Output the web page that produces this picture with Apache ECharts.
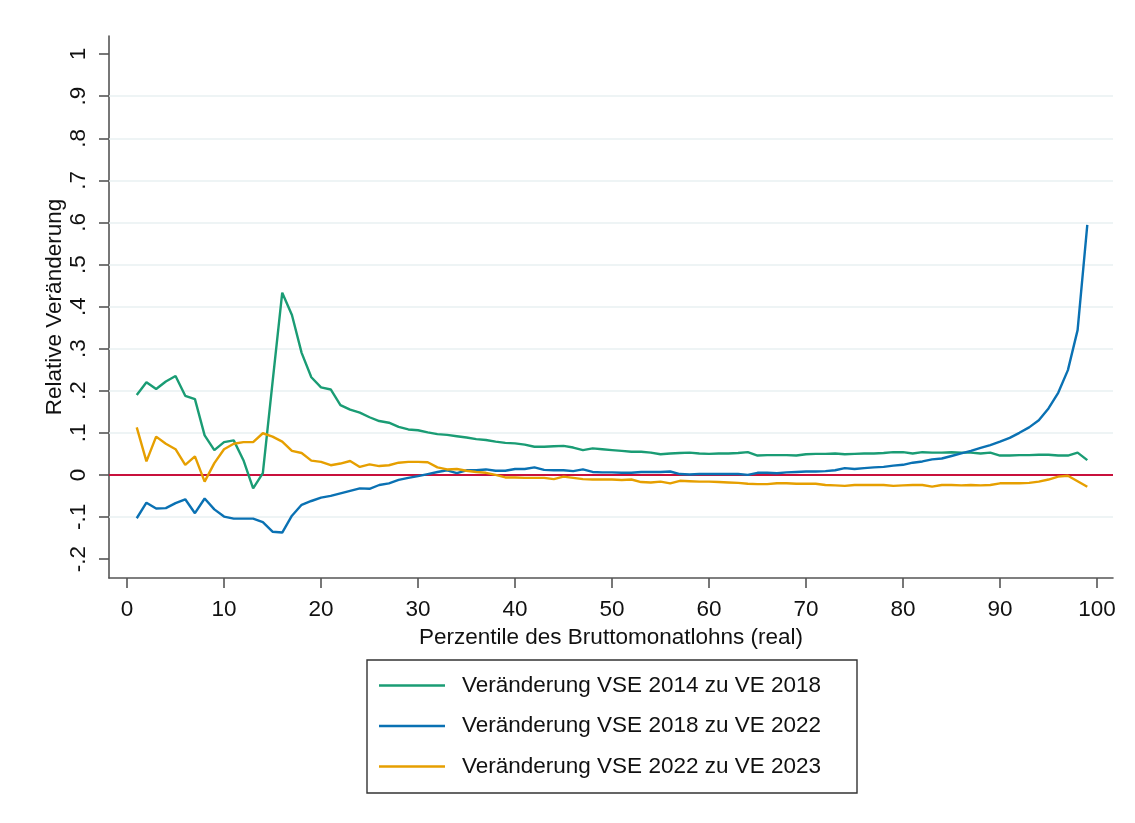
<!DOCTYPE html>
<html>
<head>
<meta charset="utf-8">
<script src="https://cdn.jsdelivr.net/npm/echarts@6/dist/echarts.min.js"></script>
<style>
  html, body { margin: 0; padding: 0; background: #fff; }
  #chart { width: 1135px; height: 823px; }
</style>
</head>
<body>
<div id="chart"></div>
<script>
// Percentiles 1..99 of gross monthly wage
const percentiles = Array.from({ length: 99 }, (_, i) => i + 1);

// Relative change VSE 2014 -> VE 2018
const change2014to2018 = [
  0.190, 0.220, 0.204, 0.222, 0.235, 0.188, 0.180, 0.094, 0.059, 0.078,
  0.082, 0.035, -0.032, 0.004, 0.220, 0.433, 0.380, 0.290, 0.232, 0.208,
  0.203, 0.166, 0.155, 0.148, 0.137, 0.128, 0.124, 0.114, 0.108, 0.106,
  0.101, 0.097, 0.095, 0.092, 0.089, 0.085, 0.083, 0.079, 0.076, 0.075,
  0.072, 0.067, 0.067, 0.068, 0.069, 0.065, 0.059, 0.063, 0.061, 0.059,
  0.057, 0.055, 0.055, 0.053, 0.049, 0.051, 0.052, 0.053, 0.051, 0.050,
  0.051, 0.051, 0.052, 0.054, 0.046, 0.047, 0.047, 0.047, 0.046, 0.049,
  0.050, 0.050, 0.051, 0.049, 0.050, 0.051, 0.051, 0.052, 0.054, 0.054,
  0.051, 0.054, 0.053, 0.053, 0.054, 0.053, 0.053, 0.051, 0.053, 0.046,
  0.046, 0.047, 0.047, 0.048, 0.048, 0.046, 0.046, 0.053, 0.035
];

// Relative change VSE 2018 -> VE 2022
const change2018to2022 = [
  -0.103, -0.066, -0.080, -0.079, -0.067, -0.058, -0.091, -0.056, -0.082, -0.099,
  -0.104, -0.104, -0.104, -0.112, -0.135, -0.137, -0.097, -0.071, -0.062, -0.054,
  -0.050, -0.044, -0.038, -0.032, -0.033, -0.024, -0.020, -0.012, -0.007, -0.003,
  0.002, 0.007, 0.011, 0.004, 0.011, 0.011, 0.013, 0.010, 0.010, 0.014,
  0.014, 0.018, 0.012, 0.011, 0.011, 0.009, 0.013, 0.007, 0.006, 0.006,
  0.005, 0.005, 0.007, 0.007, 0.007, 0.008, 0.002, 0.001, 0.002, 0.002,
  0.002, 0.002, 0.002, 0.000, 0.005, 0.005, 0.004, 0.006, 0.007, 0.008,
  0.008, 0.009, 0.011, 0.016, 0.014, 0.016, 0.018, 0.019, 0.022, 0.024,
  0.029, 0.032, 0.037, 0.039, 0.045, 0.051, 0.057, 0.064, 0.071, 0.079,
  0.088, 0.100, 0.113, 0.130, 0.158, 0.195, 0.249, 0.344, 0.594
];

// Relative change VSE 2022 -> VE 2023
const change2022to2023 = [
  0.113, 0.032, 0.091, 0.074, 0.061, 0.024, 0.044, -0.016, 0.028, 0.061,
  0.074, 0.078, 0.078, 0.099, 0.091, 0.079, 0.057, 0.052, 0.034, 0.031,
  0.023, 0.027, 0.033, 0.019, 0.025, 0.021, 0.023, 0.029, 0.031, 0.031,
  0.030, 0.018, 0.013, 0.014, 0.010, 0.007, 0.005, 0.000, -0.006, -0.006,
  -0.007, -0.007, -0.007, -0.010, -0.004, -0.007, -0.010, -0.011, -0.011, -0.011,
  -0.012, -0.011, -0.017, -0.018, -0.016, -0.020, -0.014, -0.015, -0.016, -0.016,
  -0.017, -0.018, -0.019, -0.021, -0.022, -0.022, -0.020, -0.020, -0.021, -0.021,
  -0.021, -0.024, -0.025, -0.026, -0.024, -0.024, -0.024, -0.024, -0.026, -0.025,
  -0.024, -0.024, -0.028, -0.024, -0.024, -0.025, -0.024, -0.025, -0.024, -0.020,
  -0.020, -0.020, -0.019, -0.016, -0.011, -0.004, -0.002, -0.015, -0.028
];

const seriesNames = [
  'Veränderung VSE 2014 zu VE 2018',
  'Veränderung VSE 2018 zu VE 2022',
  'Veränderung VSE 2022 zu VE 2023'
];

// Axis ticks and their labels
const xTicks = [0, 10, 20, 30, 40, 50, 60, 70, 80, 90, 100];
const yTicks = [-0.2, -0.1, 0, 0.1, 0.2, 0.3, 0.4, 0.5, 0.6, 0.7, 0.8, 0.9, 1];
const yTickLabels = ['-.2', '-.1', '0', '.1', '.2', '.3', '.4', '.5', '.6', '.7', '.8', '.9', '1'];
// Horizontal grid lines (none at the outer ticks)
const yGridLines = [-0.1, 0.1, 0.2, 0.3, 0.4, 0.5, 0.6, 0.7, 0.8, 0.9];
const referenceLine = 0;

const FONT = '"Liberation Sans", Arial, sans-serif';
const FS = 22.5;
const colors = ['#1a9c74', '#0a71b3', '#e69f00'];

const pairs = arr => percentiles.map((p, i) => [p, arr[i]]);

const lineSeries = (idx, values) => ({
  name: seriesNames[idx],
  type: 'line',
  data: pairs(values),
  symbol: 'none',
  showSymbol: false,
  z: 5,
  lineStyle: { color: colors[idx], width: 2.4 },
  itemStyle: { color: colors[idx] },
  emphasis: { disabled: true }
});

const chart = echarts.init(document.getElementById('chart'), null, { renderer: 'canvas' });

chart.setOption({
  backgroundColor: '#ffffff',
  animation: false,
  textStyle: { fontFamily: FONT },
  grid: { left: 109, right: 22, top: 36, bottom: 245, containLabel: false },
  xAxis: {
    type: 'value',
    min: -1.86,
    max: 101.65,
    name: 'Perzentile des Bruttomonatlohns (real)',
    nameLocation: 'middle',
    nameGap: 44,
    nameTextStyle: { fontSize: FS, color: '#111', fontFamily: FONT },
    axisLine: { show: true, onZero: false, lineStyle: { color: '#555', width: 1.6 } },
    axisTick: { show: true, length: 10, customValues: xTicks, lineStyle: { color: '#555', width: 1.6 } },
    axisLabel: { customValues: xTicks, fontSize: FS, color: '#111', margin: 20, fontFamily: FONT },
    splitLine: { show: false }
  },
  yAxis: {
    type: 'value',
    min: -0.245,
    max: 1.043,
    name: 'Relative Veränderung',
    nameLocation: 'middle',
    nameGap: 43,
    nameMoveOverlap: false,
    nameRotate: 90,
    nameTextStyle: { fontSize: FS, color: '#111', fontFamily: FONT },
    axisLine: { show: true, onZero: false, lineStyle: { color: '#555', width: 1.6 } },
    axisTick: { show: true, length: 10, customValues: yTicks, lineStyle: { color: '#555', width: 1.6 } },
    axisLabel: {
      customValues: yTicks,
      rotate: 90,
      fontSize: FS,
      color: '#111',
      margin: 19,
      fontFamily: FONT,
      formatter: v => {
        const idx = yTicks.findIndex(t => Math.abs(t - v) < 1e-6);
        return idx >= 0 ? yTickLabels[idx] : '';
      }
    },
    splitLine: { show: false }
  },
  legend: {
    orient: 'vertical',
    left: 379,
    top: 674,
    padding: 0,
    icon: 'rect',
    itemWidth: 66,
    itemHeight: 2.6,
    itemGap: 17.5,
    selectedMode: false,
    data: seriesNames,
    textStyle: { fontSize: FS, color: '#111', fontFamily: FONT, lineHeight: 22, padding: [0, 0, 0, 12] }
  },
  graphic: [
    {
      type: 'rect',
      shape: { x: 367, y: 660, width: 490, height: 133 },
      style: { fill: '#fff', stroke: '#333', lineWidth: 1.4 },
      z: -1,
      silent: true
    }
  ],
  series: [
    {
      name: 'grid',
      type: 'line',
      data: [],
      z: 1,
      silent: true,
      markLine: {
        z: 1,
        silent: true,
        symbol: 'none',
        label: { show: false },
        lineStyle: { color: '#e8f0f2', width: 1.6, type: 'solid' },
        data: yGridLines.map(v => ({ yAxis: v }))
      }
    },
    lineSeries(0, change2014to2018),
    lineSeries(1, change2018to2022),
    lineSeries(2, change2022to2023),
    {
      name: 'zero',
      type: 'line',
      data: [],
      z: 2,
      silent: true,
      markLine: {
        z: 2,
        silent: true,
        symbol: 'none',
        label: { show: false },
        lineStyle: { color: '#c8103c', width: 2, type: 'solid' },
        data: [{ yAxis: referenceLine }]
      }
    }
  ]
});
</script>
</body>
</html>
